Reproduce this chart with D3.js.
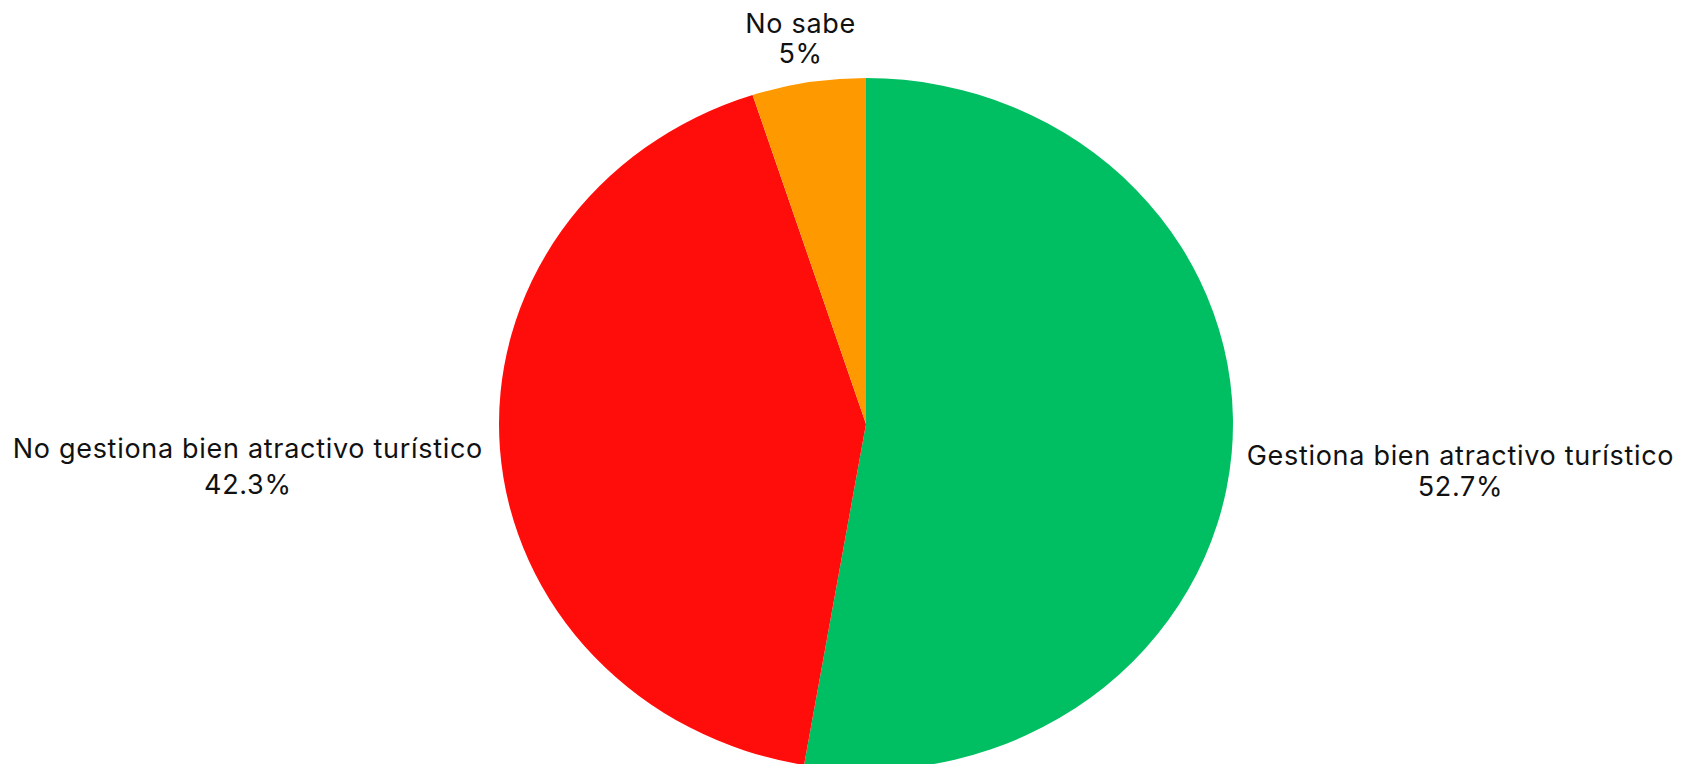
<!DOCTYPE html>
<html>
<head>
<meta charset="utf-8">
<script src="https://cdn.jsdelivr.net/npm/d3@7"></script>
<style>
html,body{margin:0;padding:0;background:#fff;}
svg{display:block;}
text{font-family:"Inter","DejaVu Sans",sans-serif;fill:#111;letter-spacing:0.7px;}
</style>
</head>
<body>
<svg id="chart" width="1695" height="764"></svg>
<script>
const categories = ["Gestiona bien atractivo turístico", "No gestiona bien atractivo turístico", "No sabe"];
const values = [52.7, 42.3, 5];
const valueLabels = ["52.7%", "42.3%", "5%"];
const colors = ["#00BF63", "#FF0D0A", "#FF9900"];

const W = 1695, H = 764;
const cx = 866, cy = 424, rx = 367, ry = 346;
const svg = d3.select("#chart");

const pie = d3.pie().sort(null).value(d => d)(values);
const arc = d3.arc().innerRadius(0).outerRadius(rx);

const g = svg.append("g").attr("transform", `translate(${cx},${cy}) scale(1,${ry/rx})`);
g.selectAll("path").data(pie).join("path")
  .attr("d", arc)
  .attr("fill", (d,i) => colors[i]);

const fs = 27;
const lineGap = [31, 36, 30];
pie.forEach((d,i) => {
  const a = (d.startAngle + d.endAngle) / 2;
  const px = cx + Math.sin(a) * rx;
  const py = cy - Math.cos(a) * ry;
  const t = svg.append("text").attr("font-size", fs).attr("text-anchor", "middle");
  const l1 = t.append("tspan").attr("x", 0).attr("y", 0).text(categories[i]);
  const l2 = t.append("tspan").attr("x", 0).attr("y", lineGap[i]).text(valueLabels[i]);
  const w = Math.max(l1.node().getComputedTextLength(), l2.node().getComputedTextLength());
  let tx, ty;
  if (Math.abs(Math.sin(a)) > 0.5) {
    tx = Math.sin(a) > 0 ? px + 15 + w/2 : px - 17 - w/2;
    ty = py + (Math.sin(a) > 0 ? 12 : 9);
  } else {
    tx = px - 8;
    ty = py - 19 - lineGap[i];
  }
  t.attr("transform", `translate(${tx},${ty})`);
});
</script>
</body>
</html>
